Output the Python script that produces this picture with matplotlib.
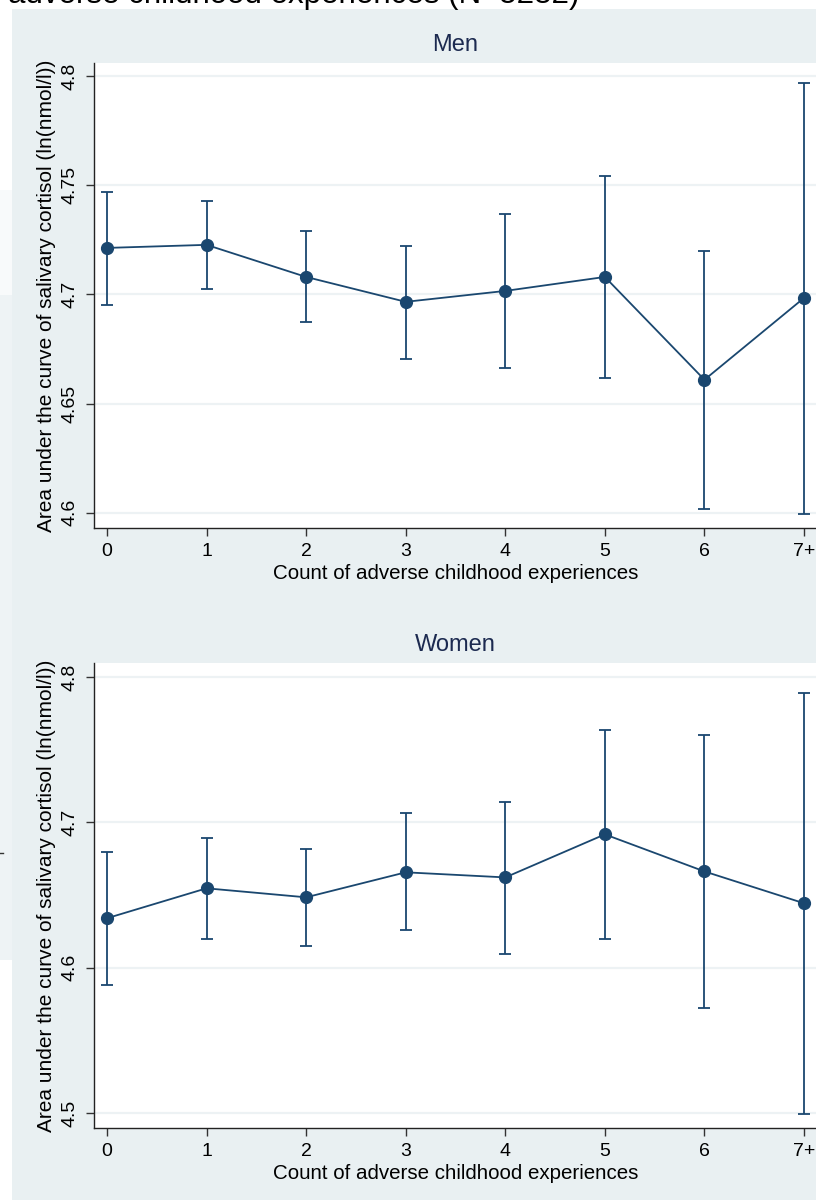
import matplotlib
matplotlib.use("Agg")
import matplotlib.pyplot as plt
from matplotlib.patches import Rectangle

# ---- data ----
categories = ["0", "1", "2", "3", "4", "5", "6", "7+"]
men_mean  = [4.7213, 4.7227, 4.7080, 4.6966, 4.7016, 4.7080, 4.6609, 4.6984]
men_low   = [4.6952, 4.7025, 4.6874, 4.6705, 4.6664, 4.6618, 4.6018, 4.5995]
men_high  = [4.7469, 4.7428, 4.7290, 4.7222, 4.7369, 4.7542, 4.7199, 4.7968]
women_mean = [4.6340, 4.6546, 4.6484, 4.6656, 4.6621, 4.6917, 4.6662, 4.6443]
women_low  = [4.5879, 4.6195, 4.6147, 4.6257, 4.6092, 4.6195, 4.5721, 4.4993]
women_high = [4.6793, 4.6890, 4.6814, 4.7061, 4.7137, 4.7638, 4.7604, 4.7892]
men_yticks = [4.6, 4.65, 4.7, 4.75, 4.8]
men_yticklabels = ["4.6", "4.65", "4.7", "4.75", "4.8"]
women_yticks = [4.5, 4.6, 4.7, 4.8]
women_yticklabels = ["4.5", "4.6", "4.7", "4.8"]
panel_titles = ["Men", "Women"]
xlabel = "Count of adverse childhood experiences"
ylabel = "Area under the curve of salivary cortisol (ln(nmol/l))"
top_text = "adverse childhood experiences (N=5282)"

W, H = 816, 1202
plt.rcParams['font.family'] = ['Liberation Sans', 'DejaVu Sans']
fig = plt.figure(figsize=(W / 100, H / 100), dpi=100)
fig.patch.set_facecolor("white")

BG = "#e9f0f2"
NAVY = "#1a476f"
TITLE_C = "#1c2a50"
GRID = "#edf2f4"

def px(x, y):
    return x / W, 1 - y / H

def frect(x0, y0, x1, y1, color, z):
    fig.patches.append(Rectangle(px(x0, y1), (x1 - x0) / W, (y1 - y0) / H,
                                 transform=fig.transFigure, facecolor=color,
                                 edgecolor="none", zorder=z))

# remnants of an underlying figure at the far left
frect(0, 295, 12, 960, "#eef3f5", -6)
frect(0, 190, 12, 295, "#f8fafb", -6)

# background graph region
frect(12, 9, W, 1200, BG, -5)

fig.text(8 / W, 1 - 3 / H, top_text, fontsize=22.5, color="black",
         ha="left", va="baseline", zorder=-4)

def make_panel(top, bottom, title, mean, low, high, yticks, ylabels, ylim):
    l, b = px(94, bottom)
    ax = fig.add_axes([l, b, (817 - 94) / W, (bottom - top) / H])
    ax.set_zorder(2)
    ax.set_facecolor("white")
    x = list(range(len(categories)))
    yerr = [[m - lo for m, lo in zip(mean, low)], [hi - m for m, hi in zip(mean, high)]]
    ax.errorbar(x, mean, yerr=yerr, color=NAVY, lw=1.3, marker="o", ms=8.5,
                capsize=4.2, capthick=1.3, elinewidth=1.3, zorder=3)
    ax.set_xlim(-0.13, 7.13)
    ax.set_ylim(*ylim)
    ax.set_xticks(x)
    ax.set_xticklabels(categories)
    ax.set_yticks(yticks)
    ax.set_yticklabels(ylabels, rotation=90, va="center")
    ax.grid(axis="y", color=GRID, lw=1.6, zorder=0)
    ax.set_axisbelow(True)
    for s in ["top", "right"]:
        ax.spines[s].set_visible(False)
    for s in ["left", "bottom"]:
        ax.spines[s].set_color("#222222")
        ax.spines[s].set_linewidth(1.0)
    ax.tick_params(axis="both", direction="out", length=6, width=1.0,
                   color="#333333", labelsize=14, labelcolor="black")
    ax.tick_params(axis="y", pad=5)
    ax.tick_params(axis="x", pad=5)
    ax.set_xlabel(xlabel, fontsize=14.8, labelpad=3)
    cx = (94 + 817) / 2 / W
    fig.text(cx, 1 - (top - 18) / H, title, fontsize=17, color=TITLE_C,
             ha="center", va="center")
    fig.text(47 / W, 1 - (top + bottom) / 2 / H, ylabel, rotation=90,
             fontsize=15, ha="center", va="center")
    return ax

make_panel(63, 528, panel_titles[0], men_mean, men_low, men_high,
           men_yticks, men_yticklabels, (4.593, 4.806))
make_panel(663, 1128, panel_titles[1], women_mean, women_low, women_high,
           women_yticks, women_yticklabels, (4.4897, 4.8096))

# small stray tick from the underlying figure
fig.add_artist(plt.Line2D([0, 3 / W], [1 - 853 / H, 1 - 853 / H],
                          transform=fig.transFigure, color="#333333", lw=1))

fig.savefig("out.png", dpi=100)
